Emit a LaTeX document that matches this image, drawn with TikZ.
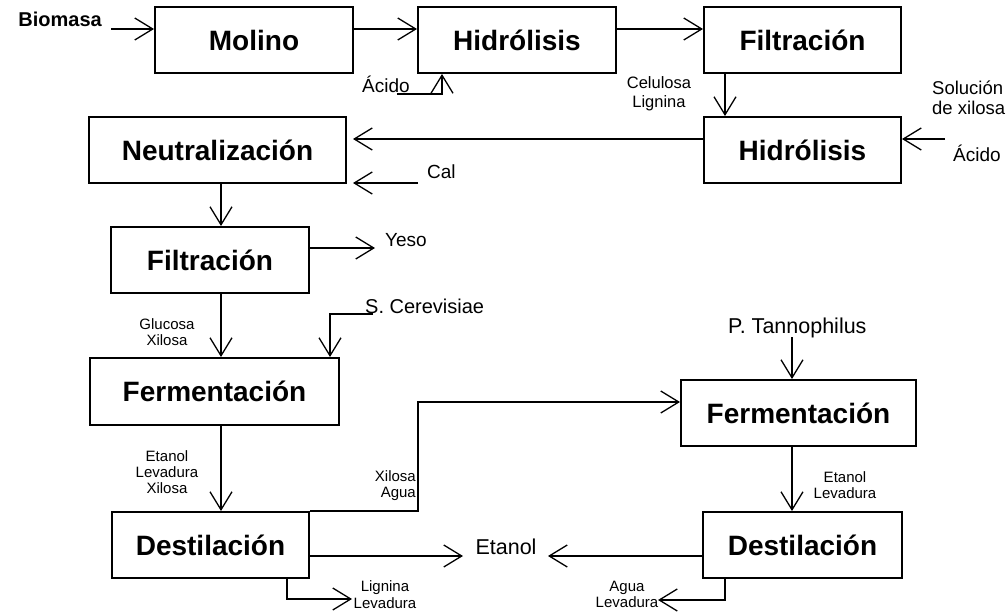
\documentclass[tikz,border=0pt]{standalone}
\usepackage{fontspec}
\setmainfont{Liberation Sans}
\usetikzlibrary{arrows.meta}
\begin{document}
\begin{tikzpicture}[x=1pt,y=-1pt,
  box/.style={draw, line width=2pt, inner sep=0pt, minimum height=66pt,
    font=\fontsize{28}{32}\selectfont\bfseries},
  flow/.style={line width=1.3pt, -{Straight Barb[length=18pt,width=22pt]}},
  big/.style={inner sep=0pt, font=\fontsize{19}{21}\selectfont},
  large/.style={inner sep=0pt, font=\fontsize{21.5}{24}\selectfont},
  small/.style={inner sep=0pt, align=center, font=\fontsize{15}{16}\selectfont},
]
\fill[white] (0,0) rectangle (1006,613);
\useasboundingbox (0,0) rectangle (1006,613);

% process units
\node[box, minimum width=198pt] (molino) at (254,40) {Molino};
\node[box, minimum width=198pt] (hidro1) at (517,40) {Hidrólisis};
\node[box, minimum width=197pt] (filt1) at (802.5,40) {Filtración};
\node[box, minimum width=197pt] (hidro2) at (802.5,150) {Hidrólisis};
\node[box, minimum width=257pt] (neut) at (217.5,150) {Neutralización};
\node[box, minimum width=198pt] (filt2) at (210,260) {Filtración};
\node[box, minimum width=249pt, minimum height=67pt] (ferm1) at (214.5,391.5) {Fermentación};
\node[box, minimum width=197pt] (dest1) at (210.5,545) {Destilación};
\node[box, minimum width=235pt] (ferm2) at (798.5,413) {Fermentación};
\node[box, minimum width=199pt] (dest2) at (802.5,545) {Destilación};

% stream labels (multi-line ones anchored on the baseline of their last line)
\node[inner sep=0pt, anchor=base east, font=\fontsize{20}{22}\selectfont\bfseries] (biomasa) at (102,27) {Biomasa};
\node[big, anchor=base west] (acido1) at (362,92) {Ácido};
\node[inner sep=0pt, align=center, anchor=base, font=\fontsize{16.5}{19}\selectfont] (celul) at (659,107) {Celulosa\\Lignina};
\node[inner sep=0pt, align=left, anchor=base west, font=\fontsize{18.5}{20}\selectfont] (solxil) at (932,114) {Solución\\de xilosa};
\node[big, anchor=base west] (acido2) at (953,161) {Ácido};
\node[big, anchor=base west] (cal) at (427,178) {Cal};
\node[big, anchor=base west] (yeso) at (385,246) {Yeso};
\node[small, anchor=base] (glux) at (167,345) {Glucosa\\Xilosa};
\node[inner sep=0pt, anchor=base west, font=\fontsize{20}{22}\selectfont] (scer) at (365,313) {S. Cerevisiae};
\node[small, anchor=base] (elx) at (167,493) {Etanol\\Levadura\\Xilosa};
\node[small, align=right, anchor=base east] (xagua) at (416,497) {Xilosa\\Agua};
\node[large, anchor=base] (etanol) at (506,554) {Etanol};
\node[large, anchor=base west] (ptan) at (728,333) {P. Tannophilus};
\node[small, anchor=base] (el2) at (845,498) {Etanol\\Levadura};
\node[inner sep=0pt, align=center, anchor=base, font=\fontsize{15}{17}\selectfont] (ligl) at (385,608) {Lignina\\Levadura};
\node[small, anchor=base] (agl) at (627,607) {Agua\\Levadura};

% stream connectors
\coordinate (bio) at (111,29);
\draw[flow] (bio) -- (molino.west |- bio);
\draw[flow] (molino.east |- bio) -- (hidro1.west |- bio);
\draw[flow] (hidro1.east |- bio) -- (filt1.west |- bio);

\coordinate (a1) at (397,94);
\coordinate (a1c) at (442,94);
\draw[flow] (a1) -- (a1c) -- (a1c |- hidro1.south);

\coordinate (c1) at (725,0);
\draw[flow] (filt1.south -| c1) -- (hidro2.north -| c1);

\coordinate (h2n) at (353,139);
\draw[flow] (hidro2.west |- h2n) -- (h2n);
\coordinate (acr) at (945,139);
\draw[flow] (acr) -- (hidro2.east |- acr);

\coordinate (calsrc) at (418,183);
\coordinate (calin) at (353,183);
\draw[flow] (calsrc) -- (calin);

\coordinate (v1) at (221,0);
\draw[flow] (neut.south -| v1) -- (filt2.north -| v1);
\coordinate (yesotip) at (375,248);
\draw[flow] (filt2.east |- yesotip) -- (yesotip);
\draw[flow] (filt2.south -| v1) -- (ferm1.north -| v1);

\coordinate (sc) at (373,314);
\coordinate (scd) at (330,314);
\draw[flow] (sc) -- (scd) -- (scd |- ferm1.north);
\draw[flow] (ferm1.south -| v1) -- (dest1.north -| v1);

\coordinate (xa) at (418,402);
\draw[flow] (dest1.north east) -| (xa) -- (ferm2.west |- xa);

\coordinate (pt) at (792,337);
\draw[flow] (pt) -- (pt |- ferm2.north);
\draw[flow] (ferm2.south -| pt) -- (dest2.north -| pt);

\coordinate (et1) at (463,556);
\coordinate (et2) at (548,556);
\draw[flow] (dest1.east |- et1) -- (et1);
\draw[flow] (dest2.west |- et2) -- (et2);

\coordinate (ll) at (287,599);
\coordinate (lltip) at (352,599);
\draw[flow] (dest1.south -| ll) -- (ll) -- (lltip);
\coordinate (al) at (725,600);
\coordinate (altip) at (658,600);
\draw[flow] (dest2.south -| al) -- (al) -- (altip);
\end{tikzpicture}
\end{document}
